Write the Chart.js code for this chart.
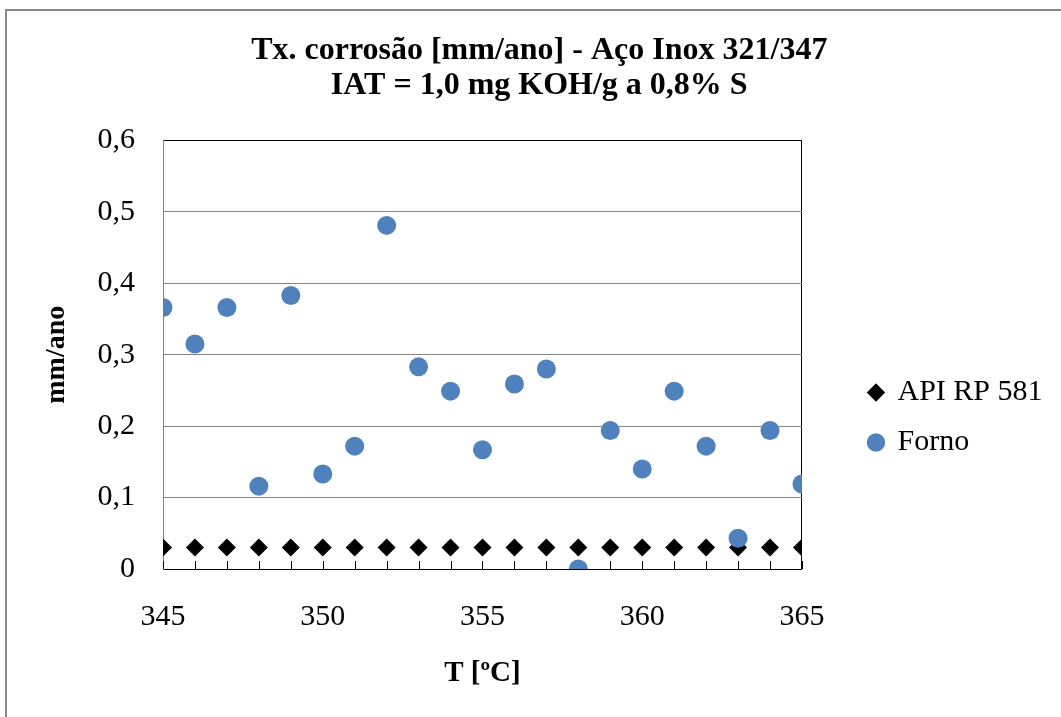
<!DOCTYPE html>
<html>
<head>
<meta charset="utf-8">
<script src="https://cdn.jsdelivr.net/npm/chart.js@4.4.0/dist/chart.umd.min.js"></script>
<style>
  html, body { margin: 0; padding: 0; background: #fff; overflow: hidden; }
  #wrap { position: relative; width: 1061px; height: 717px; }
  #grafico { position: absolute; left: 0; top: 0; }
  /* moldura cinza do gráfico (só esquerda e topo aparecem) */
  #moldura { position: absolute; left: 5px; top: 9px; width: 1100px; height: 760px;
             border-left: 2px solid #888; border-top: 2px solid #888; pointer-events: none; }
</style>
</head>
<body>
<div id="wrap">
  <canvas id="grafico" width="1061" height="717"></canvas>
  <div id="moldura"></div>
</div>
<script>
// temperaturas em ºC
const temperaturas = [345, 346, 347, 348, 349, 350, 351, 352, 353, 354, 355,
                      356, 357, 358, 359, 360, 361, 362, 363, 364, 365]
// taxa de corrosão segundo API RP 581 [mm/ano]
const apiRp581 = [0.03, 0.03, 0.03, 0.03, 0.03, 0.03, 0.03, 0.03, 0.03, 0.03, 0.03,
                  0.03, 0.03, 0.03, 0.03, 0.03, 0.03, 0.03, 0.03, 0.03, 0.03]
// taxa de corrosão medida no forno [mm/ano]
const forno = [0.366, 0.315, 0.366, 0.116, 0.383, 0.133, 0.172, 0.481, 0.283, 0.249, 0.167,
               0.259, 0.280, 0.0, 0.194, 0.140, 0.249, 0.172, 0.043, 0.194, 0.119]
// rótulos dos eixos
const xTicks = [345, 350, 355, 360, 365]
const yTicks = [0, 0.1, 0.2, 0.3, 0.4, 0.5, 0.6]

const serif = "'Liberation Serif', 'Times New Roman', serif"

// pares x/y para o scatter
const pontos = (ys) => temperaturas.map((t, i) => ({ x: t, y: ys[i] }))

// tracinhos do eixo x, desenhados para dentro da área do gráfico
const marcasX = {
  id: 'marcasX',
  beforeDatasetsDraw(chart) {
    const ctx = chart.ctx
    const x = chart.scales.x
    const base = chart.chartArea.bottom
    ctx.save()
    ctx.strokeStyle = '#000'
    ctx.lineWidth = 1
    ctx.beginPath()
    temperaturas.forEach(t => {
      const px = Math.round(x.getPixelForValue(t)) + 0.5
      ctx.moveTo(px, base)
      ctx.lineTo(px, base - 8)
    })
    ctx.stroke()
    ctx.restore()
  }
}

const chart = new Chart(document.getElementById('grafico'), {
  type: 'scatter',
  data: {
    datasets: [{
      label: 'API RP 581',
      data: pontos(apiRp581),
      pointStyle: 'rectRot',
      pointRadius: 9,
      pointHoverRadius: 9,
      backgroundColor: '#000',
      borderColor: '#000',
      borderWidth: 0,
      order: 1
    }, {
      label: 'Forno',
      data: pontos(forno),
      pointStyle: 'circle',
      pointRadius: 9.5,
      pointHoverRadius: 9.5,
      backgroundColor: '#4F81BD',
      borderColor: '#4F81BD',
      borderWidth: 0,
      order: 0
    }]
  },
  options: {
    responsive: false,
    devicePixelRatio: 1,
    animation: false,
    layout: { padding: { left: 26, right: 8.5, top: 0, bottom: 0 } },
    plugins: {
      title: {
        display: true,
        text: ['Tx. corrosão [mm/ano] - Aço Inox 321/347', 'IAT = 1,0 mg KOH/g a 0,8% S'],
        color: '#000',
        font: { family: serif, size: 32, weight: 'bold', lineHeight: 1.1 },
        padding: { top: 33, bottom: 37 }
      },
      legend: {
        position: 'right',
        align: 'center',
        maxWidth: 260,
        // título vazio só para descer os itens da legenda
        title: { display: true, text: '', padding: { top: 0, bottom: 103.6 } },
        labels: {
          usePointStyle: true,
          boxWidth: 13,
          boxHeight: 13,
          padding: 20,
          color: '#000',
          font: { family: serif, size: 30 },
          sort: (a, b) => a.datasetIndex - b.datasetIndex
        }
      },
      tooltip: { enabled: false }
    },
    scales: {
      x: {
        type: 'linear',
        min: 345,
        max: 365,
        afterBuildTicks: s => { s.ticks = temperaturas.map(v => ({ value: v })) },
        ticks: {
          autoSkip: false,
          maxRotation: 0,
          padding: 30,
          color: '#000',
          font: { family: serif, size: 30 },
          callback: v => xTicks.includes(v) ? String(v) : ''
        },
        grid: {
          drawTicks: false,
          color: c => (c.tick && c.tick.value === 365) ? '#000' : 'rgba(0,0,0,0)'
        },
        border: { color: '#000', width: 1 },
        title: {
          display: true,
          text: 'T [ºC]',
          color: '#000',
          font: { family: serif, size: 29, weight: 'bold' },
          padding: { top: 0, bottom: 26 }
        },
        afterFit: s => { s.height = 148 }
      },
      y: {
        min: 0,
        max: 0.6,
        afterBuildTicks: s => { s.ticks = yTicks.map(v => ({ value: v })) },
        ticks: {
          padding: 28,
          color: '#000',
          font: { family: serif, size: 30 },
          callback: v => v === 0 ? '0' : v.toFixed(1).replace('.', ',')
        },
        grid: {
          drawTicks: false,
          color: c => (c.tick && c.tick.value > 0.59) ? '#000' : '#868686'
        },
        border: { color: '#868686', width: 1 },
        title: {
          display: true,
          text: 'mm/ano',
          color: '#000',
          font: { family: serif, size: 28, weight: 'bold' },
          padding: { top: 14, bottom: 0 }
        },
        afterFit: s => { s.width = 137 }
      },
      // eixo vazio à direita, só para afastar a legenda da área do gráfico
      folga: {
        position: 'right',
        display: true,
        grid: { display: false },
        ticks: { display: false },
        border: { display: false },
        afterFit: s => { s.width = 47.5 }
      }
    }
  },
  plugins: [marcasX]
})
</script>
</body>
</html>
